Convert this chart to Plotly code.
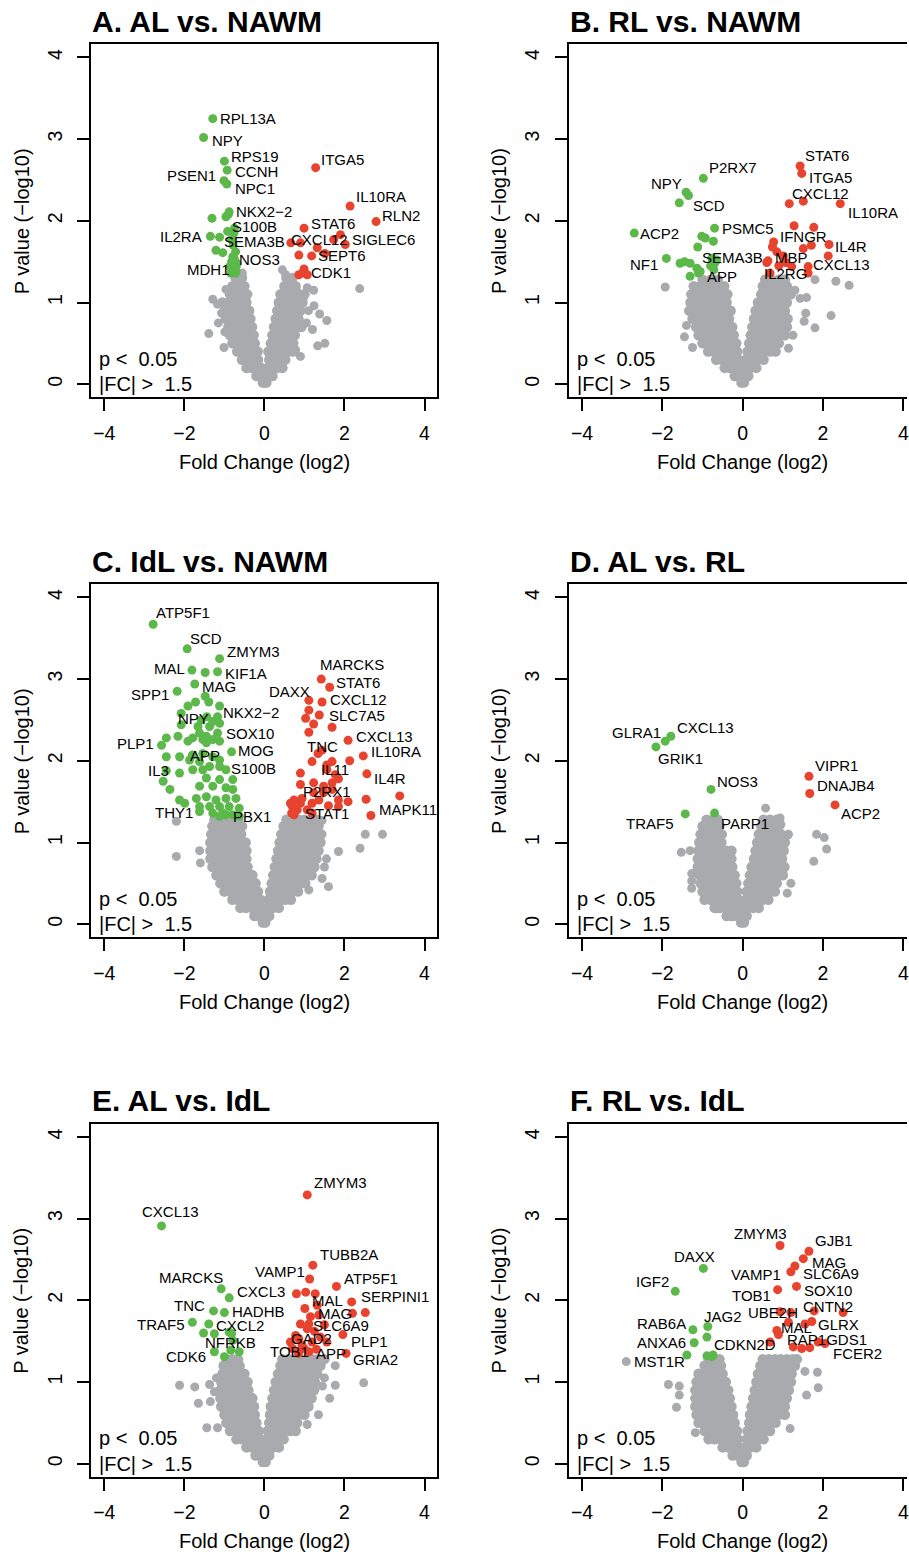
import plotly.graph_objects as go

# ====================== DATA ======================
titles = ["A. AL vs. NAWM", "B. RL vs. NAWM", "C. IdL vs. NAWM",
          "D. AL vs. RL", "E. AL vs. IdL", "F. RL vs. IdL"]
x_ticks = [-4, -2, 0, 2, 4]
x_tick_text = ["\u22124", "\u22122", "0", "2", "4"]
y_ticks = [0, 1, 2, 3, 4]
y_tick_text = ["0", "1", "2", "3", "4"]
x_title = "Fold Change (log2)"
y_title = "P value (\u2212log10)"
note_p = "p <\u00a0 0.05"
note_fc = "|FC| >\u00a0 1.5"

# ---------- Panel A ----------
A_gray_rows = {
    0.02: [-0.04, 0.0, 0.05],
    0.1: [-0.2, -0.1, 0.0, 0.1, 0.2],
    0.2: [-0.45, -0.32, -0.2, -0.08, 0.08, 0.2, 0.32, 0.45],
    0.3: [-0.56, -0.43, -0.3, -0.16, 0.12, 0.25, 0.38, 0.52],
    0.4: [-0.68, -0.55, -0.42, -0.3, -0.17, 0.1, 0.22, 0.35, 0.48, 0.6, 0.72],
    0.5: [-0.8, -0.66, -0.52, -0.38, -0.24, 0.16, 0.3, 0.44, 0.58, 0.72],
    0.6: [-0.86, -0.71, -0.56, -0.41, -0.27, 0.2, 0.34, 0.48, 0.62, 0.76],
    0.7: [-0.9, -0.75, -0.6, -0.45, -0.31, 0.24, 0.38, 0.52, 0.66, 0.8, 0.92],
    0.8: [-0.96, -0.8, -0.65, -0.5, -0.35, 0.28, 0.42, 0.56, 0.7, 0.85],
    0.9: [-1.0, -0.84, -0.68, -0.52, -0.38, 0.32, 0.46, 0.6, 0.74, 0.9],
    1.0: [-1.05, -0.9, -0.76, -0.6, -0.45, 0.36, 0.5, 0.65, 0.8, 0.95],
    1.1: [-0.86, -0.7, -0.56, -0.43, 0.4, 0.55, 0.7, 0.86, 1.0],
    1.2: [-0.8, -0.64, -0.5, 0.5, 0.63, 0.78],
    1.3: [-0.72, -0.56, 0.55, 0.7],
}
A_gray_out_x = [-1.29, -1.17, -1.39, -1.01, -1.07, -0.99, -0.96, -0.55, 0.45, 0.53, 0.61, 1.07, 1.23, 0.82,
                1.56, 1.38, 1.33, 1.51, 2.38, 1.24, 1.2, 0.78, 0.9, 1.05, 1.1, -1.15, -0.62, 0.97]
A_gray_out_y = [1.04, 0.98, 0.62, 0.45, 0.87, 0.64, 1.16, 1.36, 1.40, 1.34, 1.22, 1.18, 1.15, 1.13,
                0.78, 0.86, 0.47, 0.50, 1.17, 0.96, 0.67, 0.42, 0.34, 0.75, 0.90, 0.75, 1.25, 1.05]
A_green_x = [-1.29, -1.52, -1.00, -0.93, -1.01, -0.94, -0.88, -0.96, -1.31, -0.92, -0.75, -1.35, -1.12, -0.83,
             -1.21, -1.04, -0.75, -0.87, -0.69, -0.84, -0.71, -0.79, -0.76, -0.78, -0.72, -0.82, -0.70, -0.72, -0.90]
A_green_y = [3.25, 3.02, 2.73, 2.62, 2.49, 2.45, 2.11, 2.05, 2.03, 1.87, 1.91, 1.81, 1.80, 1.77,
             1.64, 1.61, 1.53, 1.44, 1.48, 1.36, 1.38, 1.56, 1.85, 1.70, 1.62, 1.50, 1.45, 1.36, 2.08]
A_green_gene = ["RPL13A", "NPY", "RPS19", "CCNH", "PSEN1", "NPC1", "NKX2−2", "", "", "S100B", "", "IL2RA", "",
                "SEMA3B", "", "", "NOS3", "MDH1"]
A_red_x = [1.28, 2.14, 2.79, 0.99, 2.02, 1.90, 0.66, 0.90, 1.73, 1.32, 1.51, 0.86, 1.18, 0.86, 0.99, 1.07, 0.95]
A_red_y = [2.65, 2.18, 1.99, 1.91, 1.71, 1.83, 1.73, 1.73, 1.77, 1.67, 1.60, 1.58, 1.57, 1.34, 1.41, 1.34, 1.36]
A_red_gene = ["ITGA5", "IL10RA", "RLN2", "STAT6", "SIGLEC6", "", "CXCL12", "", "", "", "", "", "SEPT6", "", "",
              "CDK1"]

# ---------- Panel B ----------
B_gray_rows = {
    0.02: [-0.03, 0.03],
    0.1: [-0.2, -0.08, 0.04, 0.14],
    0.2: [-0.45, -0.32, -0.2, -0.06, 0.06, 0.2, 0.34],
    0.3: [-0.66, -0.52, -0.38, -0.24, -0.1, 0.08, 0.22, 0.36, 0.52],
    0.4: [-0.86, -0.72, -0.58, -0.44, -0.3, -0.14, 0.12, 0.26, 0.4, 0.54, 0.68, 0.82],
    0.5: [-1.0, -0.86, -0.72, -0.58, -0.44, -0.3, -0.16, 0.16, 0.3, 0.44, 0.58, 0.72, 0.9],
    0.6: [-1.1, -0.95, -0.8, -0.66, -0.52, -0.38, -0.22, 0.2, 0.34, 0.48, 0.62, 0.76, 0.9, 1.05],
    0.7: [-1.16, -1.0, -0.85, -0.7, -0.56, -0.42, -0.26, 0.24, 0.38, 0.52, 0.66, 0.8, 0.95, 1.1],
    0.8: [-1.25, -1.1, -0.95, -0.8, -0.65, -0.5, -0.34, 0.28, 0.42, 0.56, 0.7, 0.85, 1.0, 1.12],
    0.9: [-1.33, -1.18, -1.03, -0.88, -0.73, -0.58, -0.43, -0.3, 0.32, 0.46, 0.6, 0.74, 0.9, 1.05],
    1.0: [-1.3, -1.15, -1.0, -0.85, -0.7, -0.55, -0.4, 0.38, 0.52, 0.66, 0.8, 0.95, 1.1],
    1.1: [-1.28, -1.12, -0.96, -0.8, -0.64, -0.5, -0.38, 0.46, 0.6, 0.75, 0.9, 1.05, 1.2],
    1.2: [-1.22, -1.05, -0.9, -0.75, -0.6, -0.46, 0.5, 0.64, 0.8, 0.95, 1.1],
    1.28: [-1.0, -0.8, -0.62, 0.56, 0.72, 0.9, 1.05],
}
B_gray_out_x = [-1.93, -1.45, 2.2, 1.8, 2.32, 2.65, 1.14, 1.59, 1.53, 1.57, 1.43, 1.8, 1.3, 1.25, -1.4, -1.25]
B_gray_out_y = [1.19, 0.58, 0.84, 0.69, 1.26, 1.21, 0.44, 1.06, 0.77, 0.87, 1.05, 1.28, 1.15, 0.6, 0.72, 0.45]
B_green_x = [-0.98, -1.41, -1.35, -1.58, -2.70, -0.70, -1.02, -0.93, -0.73, -1.12, -1.90, -1.56, -1.45, -1.31,
             -1.14, -1.06, -1.31, -0.77, -0.65, -0.70, -1.10, -0.80, -0.72]
B_green_y = [2.52, 2.35, 2.31, 2.22, 1.85, 1.91, 1.81, 1.79, 1.75, 1.68, 1.54, 1.48, 1.50, 1.48,
             1.42, 1.38, 1.32, 1.54, 1.52, 1.48, 1.36, 1.45, 1.40]
B_green_gene = ["P2RX7", "NPY", "SCD", "", "ACP2", "PSMC5", "", "", "", "", "NF1", "", "", "", "", "", "",
                "SEMA3B", "", "", "APP"]
B_red_x = [1.43, 1.47, 1.16, 1.51, 2.43, 1.28, 1.77, 2.15, 0.63, 1.63, 0.68, 1.63, 2.13, 1.71, 1.51, 1.01,
           0.77, 0.74, 1.07, 1.22, 0.60, 0.85, 0.90]
B_red_y = [2.67, 2.58, 2.21, 2.24, 2.21, 1.94, 1.92, 1.71, 1.51, 1.44, 1.36, 1.36, 1.57, 1.70, 1.66, 1.57,
           1.74, 1.68, 1.49, 1.44, 1.49, 1.62, 1.45]
B_red_gene = ["STAT6", "ITGA5", "CXCL12", "", "IL10RA", "IFNGR", "", "IL4R", "MBP", "CXCL13", "IL2RG"]

# ---------- Panel C ----------
C_gray_rows = {
    0.02: [-0.04, 0.02],
    0.1: [-0.25, -0.12, 0.0, 0.12],
    0.2: [-0.6, -0.46, -0.32, -0.18, -0.05, 0.08, 0.22, 0.36],
    0.3: [-0.8, -0.66, -0.52, -0.38, -0.24, -0.1, 0.1, 0.24, 0.38, 0.52, 0.66],
    0.4: [-1.0, -0.86, -0.72, -0.58, -0.44, -0.3, -0.16, 0.14, 0.28, 0.42, 0.56, 0.7, 0.84],
    0.5: [-1.1, -0.95, -0.8, -0.66, -0.52, -0.38, -0.22, 0.18, 0.32, 0.46, 0.6, 0.74, 0.88, 1.02],
    0.6: [-1.2, -1.05, -0.9, -0.75, -0.6, -0.46, -0.3, 0.22, 0.36, 0.5, 0.64, 0.78, 0.92, 1.06, 1.18],
    0.7: [-1.3, -1.15, -1.0, -0.85, -0.7, -0.56, -0.42, 0.26, 0.4, 0.54, 0.68, 0.82, 0.96, 1.1, 1.25],
    0.8: [-1.35, -1.2, -1.05, -0.9, -0.75, -0.6, -0.45, 0.3, 0.44, 0.58, 0.72, 0.86, 1.0, 1.15, 1.3],
    0.9: [-1.35, -1.2, -1.05, -0.9, -0.75, -0.6, -0.45, 0.34, 0.48, 0.62, 0.76, 0.9, 1.05, 1.2, 1.35],
    1.0: [-1.35, -1.2, -1.05, -0.9, -0.75, -0.6, -0.47, 0.38, 0.52, 0.66, 0.8, 0.95, 1.1, 1.25, 1.4],
    1.1: [-1.33, -1.18, -1.03, -0.88, -0.73, -0.58, 0.42, 0.56, 0.7, 0.85, 1.0, 1.15, 1.3, 1.42],
    1.2: [-1.3, -1.15, -1.0, -0.85, -0.7, -0.56, 0.48, 0.62, 0.76, 0.9, 1.05, 1.2, 1.35],
    1.28: [-1.25, -1.1, -0.95, -0.8, -0.65, 0.55, 0.7, 0.85, 1.0, 1.15, 1.3],
}
C_gray_out_x = [-2.2, -2.2, -1.62, -1.6, 1.85, 2.39, 2.52, 2.95, 1.11, 1.6, 1.44, 1.44, 1.5, 1.55]
C_gray_out_y = [1.26, 0.83, 0.90, 0.75, 0.89, 0.93, 1.10, 1.10, 0.42, 0.46, 1.27, 0.56, 0.70, 0.80]
C_green_x = [-2.78, -1.93, -1.12, -1.81, -1.48, -1.17, -1.74, -2.18, -1.48, -1.39,
             -1.12, -1.72, -1.91, -2.08, -1.17, -1.44, -1.29, -1.58, -1.66, -1.37,
             -2.08, -1.12, -1.17, -1.62, -1.45, -1.29, -1.54, -1.79, -1.91, -2.16,
             -2.45, -2.57, -1.12, -1.45, -0.82, -1.80, -1.54, -1.29, -1.12, -2.45,
             -2.12, -1.87, -1.62, -1.37, -1.79, -1.54, -1.12, -0.96, -2.12, -2.45,
             -0.79, -1.12, -1.45, -1.62, -1.29, -0.96, -0.79, -2.53, -2.36, -2.12,
             -1.99, -1.70, -1.45, -1.21, -0.96, -0.71, -1.62, -1.37, -1.12, -0.88,
             -0.63, -1.62, -1.29, -1.04, -0.79, -1.12, -0.63, -0.96]
C_green_y = [3.67, 3.37, 3.25, 3.11, 3.08, 3.09, 2.94, 2.85, 2.79, 2.72,
             2.67, 2.72, 2.67, 2.58, 2.54, 2.54, 2.48, 2.50, 2.42, 2.42,
             2.44, 2.46, 2.34, 2.34, 2.30, 2.26, 2.26, 2.28, 2.24, 2.30,
             2.28, 2.19, 2.24, 2.22, 2.11, 2.07, 2.09, 2.05, 2.01, 2.05,
             2.05, 2.01, 1.99, 1.93, 1.89, 1.89, 1.93, 1.89, 1.85, 1.88,
             1.77, 1.77, 1.79, 1.69, 1.69, 1.67, 1.65, 1.75, 1.65, 1.52,
             1.48, 1.54, 1.56, 1.52, 1.54, 1.54, 1.44, 1.44, 1.44, 1.44,
             1.42, 1.38, 1.36, 1.36, 1.34, 1.32, 1.32, 1.34]
C_green_gene = ["ATP5F1", "SCD", "ZMYM3", "MAL", "", "KIF1A", "MAG", "SPP1", "", "",
                "NKX2−2", "", "", "", "", "", "", "NPY", "", "",
                "", "", "SOX10", "", "", "", "", "", "", "",
                "", "PLP1", "", "", "MOG", "APP", "", "", "", "",
                "", "", "", "", "", "", "", "S100B", "IL3", "",
                "", "", "", "", "", "", "", "", "", "",
                "", "", "", "", "", "", "", "", "", "",
                "", "THY1", "", "", "", "", "", "PBX1"]
C_red_x = [1.42, 1.63, 1.11, 1.44, 1.37, 1.11, 1.03, 1.23, 1.69, 1.11,
           2.09, 1.34, 1.44, 1.19, 2.47, 2.13, 1.69, 1.56, 1.56, 1.77,
           1.85, 0.90, 0.90, 1.23, 1.48, 1.69, 2.56, 1.23, 1.48, 1.69,
           3.38, 2.66, 2.54, 2.09, 1.85, 0.82, 0.90, 0.74, 0.70, 0.74,
           1.36, 1.19, 0.65, 0.94, 1.07, 1.85, 1.19, 1.60, 0.68]
C_red_y = [3.00, 2.90, 2.74, 2.72, 2.56, 2.62, 2.52, 2.45, 2.41, 2.35,
           2.25, 2.09, 2.13, 1.99, 2.06, 2.00, 1.99, 1.95, 1.89, 1.83,
           1.78, 1.85, 1.71, 1.73, 1.69, 1.73, 1.84, 1.61, 1.61, 1.65,
           1.57, 1.33, 1.53, 1.50, 1.44, 1.40, 1.48, 1.52, 1.44, 1.34,
           1.52, 1.48, 1.48, 1.54, 1.40, 1.52, 1.36, 1.45, 1.36]
C_red_gene = ["MARCKS", "STAT6", "DAXX", "CXCL12", "SLC7A5", "", "", "", "", "",
              "CXCL13", "TNC", "", "", "IL10RA", "", "", "", "IL11", "",
              "", "", "", "", "", "", "IL4R", "P2RX1", "", "",
              "", "MAPK11", "", "", "", "STAT1"]

# ---------- Panel D ----------
D_gray_rows = {
    0.02: [-0.04, 0.03],
    0.1: [-0.4, -0.27, -0.14, -0.02, 0.1],
    0.2: [-0.7, -0.56, -0.42, -0.28, -0.14, -0.02, 0.12, 0.26, 0.4],
    0.3: [-0.95, -0.8, -0.66, -0.52, -0.38, -0.24, -0.1, 0.08, 0.22, 0.36, 0.5, 0.64],
    0.4: [-1.0, -0.86, -0.72, -0.58, -0.44, -0.3, -0.14, 0.1, 0.24, 0.38, 0.52, 0.66, 0.8],
    0.5: [-1.05, -0.9, -0.76, -0.62, -0.48, -0.34, -0.16, 0.14, 0.28, 0.42, 0.56, 0.7, 0.85],
    0.6: [-1.08, -0.94, -0.8, -0.66, -0.52, -0.38, -0.2, 0.18, 0.32, 0.46, 0.6, 0.74, 0.88, 1.0],
    0.7: [-1.12, -0.98, -0.84, -0.7, -0.56, -0.42, -0.26, 0.22, 0.36, 0.5, 0.64, 0.78, 0.92, 1.04],
    0.8: [-1.12, -0.98, -0.84, -0.7, -0.56, -0.42, -0.28, 0.28, 0.42, 0.56, 0.7, 0.84, 0.98],
    0.9: [-1.1, -0.96, -0.82, -0.68, -0.54, -0.4, -0.28, 0.32, 0.46, 0.6, 0.74, 0.88, 1.02],
    1.0: [-1.08, -0.94, -0.8, -0.66, -0.53, 0.36, 0.5, 0.64, 0.78, 0.92, 1.05],
    1.1: [-1.05, -0.9, -0.76, -0.62, -0.52, 0.4, 0.54, 0.68, 0.82, 0.96],
    1.2: [-1.0, -0.85, -0.7, -0.58, 0.46, 0.6, 0.76, 0.9],
    1.28: [-0.9, -0.75, -0.62, 0.52, 0.68, 0.85],
}
D_gray_out_x = [-1.53, -1.31, -1.27, -1.27, -1.27, -0.65, 0.57, 0.91, 0.95, 1.12, 1.2, 1.11, 1.84, 2.03, 2.09,
                1.77, 1.14, 0.93]
D_gray_out_y = [0.88, 0.90, 0.62, 0.44, 0.53, 0.19, 1.42, 1.28, 1.22, 1.09, 0.50, 0.38, 1.10, 1.06, 0.92,
                0.77, 1.10, 1.30]
D_green_x = [-2.16, -1.93, -1.79, -0.79, -1.43, -0.70]
D_green_y = [2.17, 2.24, 2.30, 1.65, 1.35, 1.36]
D_green_gene = ["GLRA1", "GRIK1", "CXCL13", "NOS3", "TRAF5", "PARP1"]
D_red_x = [1.65, 1.67, 2.30]
D_red_y = [1.81, 1.60, 1.46]
D_red_gene = ["VIPR1", "DNAJB4", "ACP2"]

# ---------- Panel E ----------
E_gray_rows = {
    0.02: [-0.04, 0.03],
    0.1: [-0.22, -0.1, 0.02, 0.12],
    0.2: [-0.45, -0.32, -0.18, -0.05, 0.08, 0.22, 0.36],
    0.3: [-0.7, -0.56, -0.42, -0.28, -0.12, 0.06, 0.2, 0.34, 0.48],
    0.4: [-0.86, -0.72, -0.58, -0.44, -0.3, -0.14, 0.08, 0.22, 0.36, 0.5, 0.64, 0.78],
    0.5: [-0.95, -0.8, -0.66, -0.52, -0.38, -0.2, 0.12, 0.26, 0.4, 0.54, 0.68, 0.82],
    0.6: [-1.0, -0.86, -0.72, -0.58, -0.44, -0.24, 0.14, 0.28, 0.42, 0.56, 0.7, 0.84, 1.0],
    0.7: [-1.08, -0.94, -0.8, -0.66, -0.52, -0.38, -0.26, 0.16, 0.3, 0.44, 0.58, 0.72, 0.86, 1.0, 1.1],
    0.8: [-1.1, -0.96, -0.82, -0.68, -0.54, -0.4, -0.3, 0.2, 0.34, 0.48, 0.62, 0.76, 0.9, 1.04, 1.18],
    0.9: [-1.1, -0.96, -0.82, -0.68, -0.54, -0.4, 0.24, 0.38, 0.52, 0.66, 0.8, 0.94, 1.08, 1.24],
    1.0: [-1.08, -0.94, -0.8, -0.66, -0.52, -0.42, 0.28, 0.42, 0.56, 0.7, 0.84, 0.98, 1.12, 1.26],
    1.1: [-1.05, -0.9, -0.76, -0.62, -0.5, 0.34, 0.48, 0.62, 0.76, 0.9, 1.04, 1.18, 1.32],
    1.2: [-1.02, -0.88, -0.74, -0.62, 0.4, 0.54, 0.68, 0.82, 0.96, 1.1, 1.24, 1.4],
    1.28: [-0.95, -0.8, -0.66, 0.45, 0.6, 0.75, 0.9, 1.05, 1.2, 1.35, 1.5],
}
E_gray_out_x = [-2.12, -1.74, -1.65, -1.35, -1.44, -1.17, -1.37, 2.48, 1.77, 1.63, 1.77, 1.07, -1.25, -1.2,
                1.45, 1.35, 1.5]
E_gray_out_y = [0.96, 0.94, 0.74, 0.76, 0.44, 0.44, 0.97, 0.99, 0.96, 0.80, 1.20, 0.48, 0.88, 1.05,
                0.95, 0.60, 1.05]
E_green_x = [-2.57, -1.08, -0.88, -1.27, -1.00, -1.80, -1.39, -1.52, -1.25, -0.82, -0.88, -0.79, -1.25, -1.00,
             -0.84, -0.63]
E_green_y = [2.91, 2.14, 2.03, 1.87, 1.85, 1.73, 1.71, 1.60, 1.59, 1.59, 1.61, 1.51, 1.37, 1.31, 1.39, 1.37]
E_green_gene = ["CXCL13", "MARCKS", "CXCL3", "TNC", "HADHB", "TRAF5", "", "", "CXCL2", "NFRKB", "", "", "CDK6"]
E_red_x = [1.07, 1.21, 1.13, 1.80, 2.18, 1.32, 1.36, 1.11, 1.96, 0.86, 0.99, 1.11, 2.04, 0.80, 1.03, 1.27,
           1.01, 1.15, 0.90, 1.07, 1.56, 0.78, 0.65, 0.94, 1.19, 0.70, 2.52, 2.20, 1.25, 1.40, 1.50, 0.85, 1.30]
E_red_y = [3.29, 2.43, 2.26, 2.17, 1.98, 1.94, 1.82, 1.71, 1.58, 1.53, 1.41, 1.37, 1.35, 2.08, 2.10, 2.08,
           1.90, 1.80, 1.71, 1.65, 1.49, 1.57, 1.49, 1.45, 1.49, 1.41, 1.85, 1.84, 1.62, 1.55, 1.70, 1.35, 1.40]
E_red_gene = ["ZMYM3", "TUBB2A", "VAMP1", "ATP5F1", "SERPINI1", "MAL", "MAG", "SLC6A9", "PLP1", "GAD2", "TOB1",
              "APP", "GRIA2"]

# ---------- Panel F ----------
F_gray_rows = {
    0.02: [-0.03, 0.03],
    0.1: [-0.25, -0.12, 0.0, 0.1],
    0.2: [-0.5, -0.36, -0.22, -0.08, 0.06, 0.2, 0.34],
    0.3: [-0.85, -0.7, -0.56, -0.42, -0.28, -0.12, 0.1, 0.24, 0.38, 0.52],
    0.4: [-0.95, -0.8, -0.66, -0.52, -0.38, -0.24, -0.14, 0.12, 0.26, 0.4, 0.54, 0.68],
    0.5: [-1.1, -0.95, -0.8, -0.66, -0.52, -0.38, -0.2, 0.16, 0.3, 0.44, 0.58, 0.72, 0.82],
    0.6: [-1.15, -1.0, -0.85, -0.7, -0.56, -0.42, -0.24, 0.18, 0.32, 0.46, 0.6, 0.74, 0.9, 1.05],
    0.7: [-1.18, -1.03, -0.88, -0.74, -0.6, -0.46, -0.28, 0.22, 0.36, 0.5, 0.64, 0.78, 0.92, 1.05],
    0.8: [-1.18, -1.03, -0.88, -0.74, -0.6, -0.46, -0.32, 0.26, 0.4, 0.54, 0.68, 0.82, 0.96, 1.1],
    0.9: [-1.18, -1.03, -0.88, -0.74, -0.6, -0.46, -0.36, 0.3, 0.44, 0.58, 0.72, 0.86, 1.0, 1.15],
    1.0: [-1.15, -1.0, -0.85, -0.7, -0.56, -0.42, 0.34, 0.48, 0.62, 0.76, 0.9, 1.05, 1.2],
    1.1: [-1.1, -0.95, -0.8, -0.66, -0.5, 0.38, 0.52, 0.66, 0.8, 0.95, 1.1, 1.22],
    1.2: [-0.95, -0.8, -0.66, -0.54, 0.44, 0.58, 0.72, 0.86, 1.0, 1.15, 1.3],
    1.28: [-0.85, -0.7, -0.58, 0.5, 0.65, 0.8, 0.95, 1.1, 1.25, 1.35],
}
F_gray_out_x = [-2.90, 1.86, 1.88, 1.59, 1.55, 1.18, -1.85, -1.58, -1.58, -1.65, -1.18, -1.1]
F_gray_out_y = [1.25, 1.12, 0.93, 0.84, 1.13, 0.43, 0.97, 0.95, 0.84, 0.69, 0.38, 1.10]
F_gray_gene = ["MST1R"]
F_green_x = [-0.98, -1.68, -1.24, -0.87, -1.21, -0.74, -0.89, -1.39, -0.89, -0.77]
F_green_y = [2.39, 2.11, 1.64, 1.68, 1.48, 1.33, 1.55, 1.33, 1.32, 1.31]
F_green_gene = ["DAXX", "IGF2", "RAB6A", "JAG2", "ANXA6", "CDKN2D"]
F_red_x = [0.93, 1.65, 1.51, 1.30, 1.20, 1.34, 0.87, 0.93, 1.20, 1.72, 0.85, 1.26, 2.05, 1.78, 2.50, 1.55,
           1.14, 0.89, 1.47, 1.67, 1.88, 0.68]
F_red_y = [2.67, 2.60, 2.51, 2.42, 2.35, 2.17, 2.13, 1.86, 1.85, 1.74, 1.63, 1.43, 1.47, 1.87, 1.85, 1.71,
           1.73, 1.58, 1.41, 1.42, 1.49, 1.49]
F_red_gene = ["ZMYM3", "GJB1", "MAG", "SLC6A9", "VAMP1", "SOX10", "TOB1", "UBE2H", "CNTN2", "GLRX", "MAL",
              "RAP1GDS1", "FCER2"]

# ====================== LABEL PLACEMENT (layout, px) ======================
# anchor (l/r/c), dx right, dy down
A_place = {"RPL13A": ("l", 5, 0), "NPY": ("l", 6.7, 3.3), "RPS19": ("l", 5, -5), "CCNH": ("l", 5.7, 1),
           "PSEN1": ("r", -5.7, -5), "NPC1": ("l", 6.7, 4.7), "NKX2−2": ("l", 5, 0), "S100B": ("l", 2, -5),
           "IL2RA": ("r", -6, 0), "SEMA3B": ("l", -9, 1.7), "NOS3": ("l", 3, 0), "MDH1": ("r", 2, 3),
           "ITGA5": ("l", 3.3, -8), "IL10RA": ("l", 4, -10), "RLN2": ("l", 4, -5.7), "STAT6": ("l", 5, -5),
           "SIGLEC6": ("l", 5, -5), "CXCL12": ("l", -2, -3), "SEPT6": ("l", 4, 0), "CDK1": ("l", 2, -2)}
B_place = {"P2RX7": ("l", 3.3, -10.7), "NPY": ("r", -2, -9), "SCD": ("l", 2.7, 10), "ACP2": ("l", 4, 0),
           "PSMC5": ("l", 5, 0.7), "NF1": ("r", -6, 6), "SEMA3B": ("l", -11.6, -1), "APP": ("l", 6, 3),
           "STAT6": ("l", 3.3, -11), "ITGA5": ("l", 5, 4.4), "CXCL12": ("l", 0.7, -10),
           "IL10RA": ("l", 6, 9.3), "IFNGR": ("l", -16, 11), "IL4R": ("l", 4, 2), "MBP": ("l", 5, -3),
           "CXCL13": ("l", 3.3, -1.7), "IL2RG": ("l", -8, 0.7)}
C_place = {"ATP5F1": ("l", 1, -11.7), "SCD": ("l", 1, -10), "ZMYM3": ("l", 5, -7.3), "MAL": ("r", -4.6, -1.7),
           "KIF1A": ("l", 5.7, 1.7), "MAG": ("l", 5, 2.7), "SPP1": ("r", -6.3, 3.3), "NKX2−2": ("l", 1.7, 6),
           "NPY": ("l", -25, -1), "SOX10": ("l", 6.7, 0), "PLP1": ("r", -5.7, -1.4), "MOG": ("l", 4.4, -1),
           "APP": ("l", -4.4, 0), "S100B": ("l", 2.6, -1.7), "IL3": ("r", -8.3, -2.6), "THY1": ("r", -5, 1),
           "PBX1": ("l", 5, 1.7), "MARCKS": ("l", -3.4, -14.3), "STAT6": ("l", 4.7, -5),
           "DAXX": ("r", 3.3, -8.4), "CXCL12": ("l", 6, -2.7), "SLC7A5": ("l", 7.6, 0.7),
           "CXCL13": ("l", 5.7, -4.3), "TNC": ("l", -13.3, -6.6), "IL10RA": ("l", 5.7, -4.3),
           "IL11": ("l", -8.3, -0.7), "IL4R": ("l", 5, 5), "P2RX1": ("l", -12.3, -1.6),
           "MAPK11": ("l", 6, -5.7), "STAT1": ("l", 5.7, 4)}
D_place = {"GLRA1": ("r", 6.7, -14), "GRIK1": ("l", -9.4, 17.3), "CXCL13": ("l", 4.4, -9),
           "NOS3": ("l", 4.4, -8.3), "TRAF5": ("r", -9.4, 9.7), "PARP1": ("l", 4.7, 10),
           "VIPR1": ("l", 4.3, -10.7), "DNAJB4": ("l", 5, -8.3), "ACP2": ("l", 4.3, 9)}
E_place = {"CXCL13": ("c", 8.6, -14.7), "MARCKS": ("r", 4.3, -11.7), "CXCL3": ("l", 5.7, -6.7),
           "TNC": ("r", -6.7, -5.7), "HADHB": ("l", 5.4, -1.3), "TRAF5": ("r", -5.4, 2.6),
           "CXCL2": ("l", 0, -8.3), "NFRKB": ("c", -0.6, 8.4), "CDK6": ("r", -6.7, 5),
           "ZMYM3": ("l", 5, -12.3), "TUBB2A": ("l", 5.3, -11), "VAMP1": ("r", -2.4, -8),
           "ATP5F1": ("l", 5.6, -7.7), "SERPINI1": ("l", 7.4, -5), "MAL": ("l", -7.6, -5),
           "MAG": ("l", -2.7, -1.3), "SLC6A9": ("l", 1.7, 1.7), "PLP1": ("l", 6.4, 6.4),
           "GAD2": ("l", -10, 0), "TOB1": ("r", 6.7, 3.4), "APP": ("l", 5, 1.6), "GRIA2": ("l", 5, 6)}
F_place = {"DAXX": ("c", -8.7, -11.7), "IGF2": ("r", -4, -10), "RAB6A": ("r", -5, -6), "JAG2": ("l", -5.3, -10),
           "ANXA6": ("r", -6.3, 0), "CDKN2D": ("l", -1, -11), "ZMYM3": ("c", -19.3, -12.3),
           "GJB1": ("l", 3.7, -11), "MAG": ("l", 6.7, 4.3), "SLC6A9": ("l", 5.7, 8), "VAMP1": ("r", -7.7, 2.7),
           "SOX10": ("l", 5, 4), "TOB1": ("r", -5, 6.3), "UBE2H": ("c", -6.7, 0.7), "CNTN2": ("l", 9.7, -5.7),
           "GLRX": ("l", 4, 3.3), "MAL": ("l", 2.3, -3.3), "RAP1GDS1": ("l", -8.3, -7.3),
           "FCER2": ("l", 5.7, 10), "MST1R": ("l", 5.7, 0)}

panels = [
    (A_gray_rows, A_gray_out_x, A_gray_out_y, [], A_green_x, A_green_y, A_green_gene, A_red_x, A_red_y, A_red_gene, A_place),
    (B_gray_rows, B_gray_out_x, B_gray_out_y, [], B_green_x, B_green_y, B_green_gene, B_red_x, B_red_y, B_red_gene, B_place),
    (C_gray_rows, C_gray_out_x, C_gray_out_y, [], C_green_x, C_green_y, C_green_gene, C_red_x, C_red_y, C_red_gene, C_place),
    (D_gray_rows, D_gray_out_x, D_gray_out_y, [], D_green_x, D_green_y, D_green_gene, D_red_x, D_red_y, D_red_gene, D_place),
    (E_gray_rows, E_gray_out_x, E_gray_out_y, [], E_green_x, E_green_y, E_green_gene, E_red_x, E_red_y, E_red_gene, E_place),
    (F_gray_rows, F_gray_out_x, F_gray_out_y, F_gray_gene, F_green_x, F_green_y, F_green_gene, F_red_x, F_red_y, F_red_gene, F_place),
]

# ====================== STYLE / GEOMETRY ======================
W, H = 909, 1552
FONT = "Liberation Sans, Arial, Helvetica, sans-serif"
GRAY, GREEN, RED = "#a8aaad", "#5cb84b", "#e8432f"
MS = 9          # marker diameter (px)
MS_CORE = 10.5  # dense volcano core points overlap into a solid body
col_px = [(91.7, 438.3), (570.5, 909.0)]
col_range = [(-4.32, 4.32), (-4.32, 4.092)]
row_px = [(44.3, 397.3), (584.3, 937.3), (1123.8, 1476.8)]
Y_RANGE = (-0.16, 4.16)

fig = go.Figure()
annotations = []
layout = dict(width=W, height=H, margin=dict(l=0, r=0, t=0, b=0), paper_bgcolor="white",
              plot_bgcolor="white", showlegend=False, font=dict(family=FONT, color="black"))

anch = {"l": "left", "r": "right", "c": "center"}


def labels_for(xs, ys, genes, place, xr, yr):
    out = []
    for i, (x, y) in enumerate(zip(xs, ys)):
        g = genes[i] if i < len(genes) else ""
        if not g:
            continue
        a, dx, dy = place[g]
        out.append(dict(x=x, y=y, xref=xr, yref=yr, text=g, showarrow=False, xanchor=anch[a],
                        yanchor="middle", xshift=dx, yshift=-dy, font=dict(size=15, family=FONT, color="black")))
    return out


def dots(x, y, xr, yr, color, size):
    return go.Scatter(x=x, y=y, mode="markers", xaxis=xr, yaxis=yr, hoverinfo="skip",
                      marker=dict(size=size, color=color, line=dict(width=0)))


for i, (grows, gox, goy, ggene, gnx, gny, gng, rdx, rdy, rdg, place) in enumerate(panels):
    n = i + 1
    col, row = i % 2, i // 2
    xs = "" if n == 1 else str(n)
    xr, yr = "x" + xs, "y" + xs
    x0, x1 = col_px[col]
    top, bot = row_px[row]
    layout["xaxis" + xs] = dict(
        domain=[x0 / W, x1 / W], range=list(col_range[col]), anchor=yr,
        tickmode="array", tickvals=x_ticks, ticktext=x_tick_text, ticks="outside", ticklen=12,
        tickwidth=2, tickcolor="black", showline=True, linecolor="black", linewidth=2, mirror=True,
        showgrid=False, zeroline=False, ticklabelstandoff=5, ticklabeloverflow="allow",
        tickfont=dict(size=19.5, family=FONT, color="black"), fixedrange=True)
    layout["yaxis" + xs] = dict(
        domain=[1 - bot / H, 1 - top / H], range=list(Y_RANGE), anchor=xr,
        tickmode="array", tickvals=y_ticks, ticktext=y_tick_text, ticks="outside", ticklen=12,
        tickwidth=2, tickcolor="black", showline=True, linecolor="black", linewidth=2,
        mirror=(col == 0), showgrid=False, zeroline=False, tickangle=-90, ticklabelstandoff=8,
        ticklabeloverflow="allow",
        tickfont=dict(size=19.5, family=FONT, color="black"), fixedrange=True)

    cx, cy = [], []
    for yv, xl in grows.items():
        cx += xl
        cy += [yv] * len(xl)
    fig.add_trace(dots(cx, cy, xr, yr, GRAY, MS_CORE))
    fig.add_trace(dots(gox, goy, xr, yr, GRAY, MS))
    fig.add_trace(dots(gnx, gny, xr, yr, GREEN, MS))
    fig.add_trace(dots(rdx, rdy, xr, yr, RED, MS))

    annotations += labels_for(gox, goy, ggene, place, xr, yr)
    annotations += labels_for(gnx, gny, gng, place, xr, yr)
    annotations += labels_for(rdx, rdy, rdg, place, xr, yr)

    # panel title
    annotations.append(dict(x=0, y=1, xref=xr + " domain", yref=yr + " domain", text="<b>%s</b>" % titles[i],
                            showarrow=False, xanchor="left", yanchor="middle", xshift=-1, yshift=23,
                            font=dict(size=30, family=FONT, color="black")))
    # axis titles
    annotations.append(dict(x=0, y=0, xref=xr, yref=yr + " domain", text=x_title, showarrow=False,
                            xanchor="center", yanchor="middle", yshift=-64.5,
                            font=dict(size=20, family=FONT, color="black")))
    annotations.append(dict(x=0, y=2, xref=xr + " domain", yref=yr, text=y_title, showarrow=False,
                            xanchor="center", yanchor="middle", xshift=-70, textangle=-90,
                            font=dict(size=20, family=FONT, color="black")))
    # threshold notes
    annotations.append(dict(x=0, y=0.31, xref=xr + " domain", yref=yr, text=note_p, showarrow=False,
                            xanchor="left", yanchor="middle", xshift=5.5,
                            font=dict(size=20, family=FONT, color="black")))
    annotations.append(dict(x=0, y=0.0, xref=xr + " domain", yref=yr, text=note_fc, showarrow=False,
                            xanchor="left", yanchor="middle", xshift=5.5,
                            font=dict(size=20, family=FONT, color="black")))

layout["annotations"] = annotations
fig.update_layout(**layout)

fig.write_html("out.html", include_plotlyjs=True, full_html=True,
               config={"displayModeBar": False, "responsive": False},
               post_script="document.body.style.margin='0';document.body.style.overflow='hidden';")
